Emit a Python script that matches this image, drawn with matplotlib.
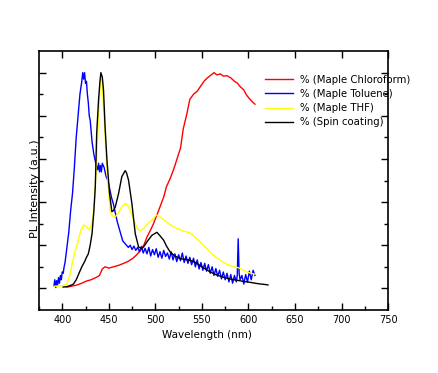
import matplotlib.pyplot as plt
import numpy as np

# PL spectra (wavelength nm, intensity a.u.)
wl_chloro = [405, 410, 416, 421, 426, 431, 437, 440, 443, 446, 450, 455, 460, 466, 471, 476, 480, 484,
             488, 491, 495, 498, 502, 505, 509, 512, 516, 520, 524, 527, 530, 534, 537, 541, 545, 549,
             553, 556, 560, 563, 566, 570, 573, 577, 581, 585, 588, 591, 595, 598, 601, 604, 607]
pl_chloro = [0.03, 0.05, 0.08, 0.12, 0.17, 0.2, 0.26, 0.3, 0.45, 0.5, 0.47, 0.5, 0.53, 0.58, 0.63, 0.7, 0.78, 0.88,
             1.02, 1.19, 1.36, 1.5, 1.72, 1.89, 2.12, 2.36, 2.55, 2.78, 3.05, 3.25, 3.7, 4.06, 4.38, 4.5, 4.57, 4.7,
             4.82, 4.88, 4.95, 5.0, 4.95, 4.97, 4.92, 4.93, 4.88, 4.8, 4.76, 4.68, 4.6, 4.48, 4.4, 4.33, 4.27]

wl_tol = [391, 392, 393, 394, 395, 396, 397, 398, 399, 400, 401, 402, 403, 405, 407, 409, 411, 413, 415, 417,
          419, 421, 422, 423, 424, 425, 426, 427, 428, 429, 430, 432, 434, 436, 438, 439, 440, 441, 442, 443,
          445, 447, 449, 451, 453, 455, 457, 459, 461, 463, 465, 467, 469, 471, 473, 475, 477, 479, 481, 483,
          485, 487, 489, 491, 493, 495, 497, 499, 501, 503, 505, 507, 509, 511, 513, 515, 517, 519, 521, 523,
          525, 527, 529, 531, 533, 535, 537, 539, 541, 543, 545, 547, 549, 551, 553, 555, 557, 559, 561, 563,
          565, 567, 569, 571, 573, 575, 577, 579, 581, 583, 585, 587, 588, 589, 590, 591, 593, 595, 597, 599,
          601, 603, 605, 607]
pl_tol = [0.05, 0.2, 0.02, 0.18, 0.08, 0.25, 0.12, 0.3, 0.2, 0.38, 0.35, 0.5, 0.6, 0.95, 1.3, 1.8, 2.2, 2.8, 3.5, 4.0,
          4.5, 4.8, 5.0, 4.85, 5.0, 4.75, 4.8, 4.5, 4.3, 4.0, 3.9, 3.4, 3.1, 2.9, 2.75, 2.9, 2.7, 2.85, 2.7, 2.9,
          2.8, 2.6, 2.5, 2.3, 2.1, 1.95, 1.75, 1.55, 1.4, 1.25, 1.1, 1.05, 1.0, 0.95, 1.0, 0.9, 0.98, 0.88, 0.95, 0.85,
          0.97, 0.82, 0.93, 0.8, 0.95, 0.75, 0.9, 0.78, 0.92, 0.72, 0.85, 0.7, 0.88, 0.74, 0.82, 0.68, 0.85, 0.66, 0.8, 0.62,
          0.78, 0.64, 0.82, 0.6, 0.75, 0.58, 0.72, 0.55, 0.7, 0.5, 0.66, 0.45, 0.6, 0.42, 0.58, 0.4, 0.55, 0.35, 0.5, 0.3,
          0.46, 0.28, 0.42, 0.22, 0.38, 0.2, 0.35, 0.15, 0.32, 0.12, 0.3, 0.15, 0.3, 1.15, 0.35, 0.2, 0.3, 0.1, 0.32, 0.15,
          0.4, 0.2, 0.42, 0.3]

wl_thf = [391, 395, 400, 405, 408, 410, 413, 417, 420, 423, 426, 429, 431, 433, 435, 437, 439, 441, 442, 443,
          444, 445.5, 447, 448, 450, 451.5, 454, 457, 460, 464, 468, 471, 473, 476, 478.5, 481, 484, 487, 489, 492,
          495, 498, 501, 504, 508, 512, 517, 523, 530, 537, 542, 548, 554, 559, 564, 570, 575, 580, 585, 589,
          594, 598, 603, 607]
pl_thf = [0.05, 0.05, 0.06, 0.1, 0.3, 0.5, 0.8, 1.1, 1.35, 1.47, 1.43, 1.35, 1.45, 1.66, 2.2, 3.0, 4.06, 4.84, 4.85, 4.8,
          4.3, 3.75, 3.1, 2.74, 2.2, 1.78, 1.68, 1.66, 1.74, 1.89, 1.97, 1.9, 1.81, 1.62, 1.5, 1.38, 1.33, 1.38, 1.43, 1.5,
          1.56, 1.62, 1.7, 1.68, 1.6, 1.54, 1.46, 1.39, 1.33, 1.29, 1.2, 1.08, 0.95, 0.84, 0.74, 0.65, 0.58, 0.53, 0.5, 0.48,
          0.43, 0.38, 0.35, 0.33]

wl_spin = [401, 405, 409, 412, 415, 418, 421, 424, 426, 428, 430, 432, 434, 435.5, 437, 439, 440.5, 441.5, 443, 444.3,
           446, 448, 450.8, 453.3, 455, 457, 460.5, 464, 467.6, 469, 471.2, 474.8, 478.4, 482, 485.6, 488, 491, 496.3,
           501.7, 505, 508.8, 512, 516, 521, 526.7, 532, 537.4, 543, 548, 553, 559, 566, 573, 580, 587.6, 595, 601.8,
           610, 618, 621]
pl_spin = [0.03, 0.04, 0.07, 0.1, 0.2, 0.35, 0.5, 0.62, 0.72, 0.8, 1.0, 1.27, 1.8, 2.36, 3.6, 4.37, 4.8, 5.0, 4.9, 4.6,
           3.75, 2.98, 2.2, 1.78, 1.8, 1.89, 2.2, 2.59, 2.73, 2.68, 2.51, 1.97, 1.27, 0.96, 0.92, 0.98, 1.08, 1.23,
           1.3, 1.22, 1.12, 0.98, 0.84, 0.75, 0.69, 0.67, 0.65, 0.6, 0.53, 0.46, 0.38, 0.31, 0.26, 0.22, 0.19, 0.16, 0.14,
           0.11, 0.09, 0.08]

fig = plt.figure(figsize=(4.38, 3.73), dpi=100)
ax = fig.add_axes([0.089, 0.169, 0.797, 0.694])

ax.plot(wl_chloro, pl_chloro, color='red', lw=1, label='% (Maple Chloroform)')
ax.plot(wl_tol, pl_tol, color='blue', lw=1, label='% (Maple Toluene)')
ax.plot(wl_thf, pl_thf, color='yellow', lw=1, label='% (Maple THF)')
ax.plot(wl_spin, pl_spin, color='black', lw=1, label='% (Spin coating)')

ax.set_xlim(375, 750)
ax.set_ylim(-0.5, 5.5)
ax.set_xticks(np.arange(400, 751, 50))
ax.set_xticks(np.arange(375, 751, 25), minor=True)
ax.set_yticks(np.arange(0, 5.1, 1))
ax.set_yticks(np.arange(0.5, 5.1, 1), minor=True)
ax.set_yticklabels([])
ax.tick_params(which='both', direction='in', top=True, right=True, labelsize=7, width=1)
ax.tick_params(which='major', length=5)
ax.tick_params(which='minor', length=3)
ax.tick_params(axis='x', which='minor', top=False)
for s in ax.spines.values():
    s.set_linewidth(1.2)

ax.set_xlabel('Wavelength (nm)', fontsize=7.5)
ax.xaxis.set_label_coords(0.48, -0.078)
ax.set_ylabel('PL Intensity (a.u.)', fontsize=8)
ax.yaxis.set_label_coords(0.003, 0.467)

ax.legend(loc='upper left', bbox_to_anchor=(0.636, 0.925), frameon=False, fontsize=7.3,
          handlelength=2.8, handletextpad=0.6, labelspacing=0.42, borderaxespad=0)

plt.savefig('out.png', dpi=100)
